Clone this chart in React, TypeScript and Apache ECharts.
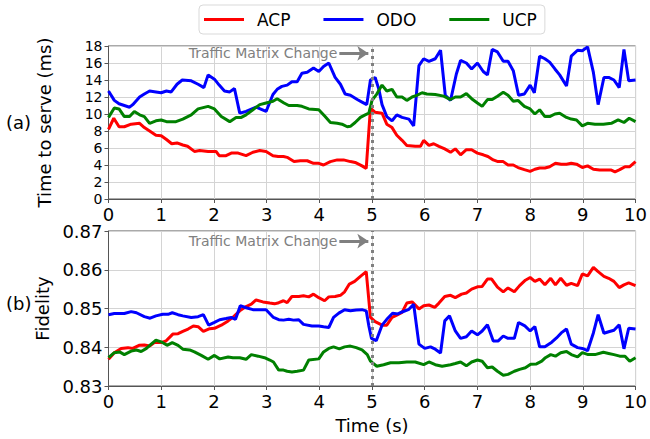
import React, { useEffect, useRef } from "react";
import * as echarts from "echarts";

const seriesNames = ["ACP", "ODO", "UCP"];
const seriesColors = ["#ff0000", "#0000ff", "#008000"];

// Top panel: time to serve (ms)
const acpServe = [
  [0, 8.2], [0.1, 9.5], [0.2, 8.5], [0.3, 8.5], [0.43, 8.8], [0.59, 8.9], [0.68, 8.4], [0.78, 8.0], [0.9, 7.5], [1.0, 7.45],
  [1.1, 7.0], [1.2, 6.5], [1.3, 6.6], [1.41, 6.35], [1.5, 6.2], [1.63, 5.6], [1.73, 5.7], [1.89, 5.6], [2.04, 5.6], [2.1, 5.1],
  [2.23, 5.1], [2.33, 5.4], [2.46, 5.4], [2.61, 5.1], [2.74, 5.5], [2.87, 5.7], [2.99, 5.6], [3.12, 5.1], [3.22, 5.0], [3.32, 5.0],
  [3.39, 4.9], [3.52, 4.4], [3.64, 4.5], [3.77, 4.5], [3.89, 4.2], [3.99, 4.2], [4.08, 4.0], [4.21, 4.4], [4.34, 4.6], [4.46, 4.6],
  [4.59, 4.4], [4.68, 4.3], [4.81, 3.9], [4.89, 3.6], [4.97, 10.7], [5.06, 10.2], [5.19, 10.1], [5.28, 8.8], [5.38, 8.4], [5.47, 7.5],
  [5.57, 6.9], [5.66, 6.3], [5.82, 6.2], [5.92, 6.2], [5.98, 6.9], [6.08, 6.3], [6.17, 6.5], [6.27, 6.2], [6.38, 5.9], [6.49, 5.5],
  [6.58, 5.9], [6.68, 5.2], [6.79, 5.8], [6.89, 5.8], [7.0, 5.4], [7.11, 5.2], [7.2, 5.0], [7.3, 4.6], [7.39, 4.4], [7.49, 4.4],
  [7.58, 4.0], [7.68, 4.0], [7.77, 3.7], [7.89, 3.45], [8.0, 3.25], [8.09, 3.5], [8.18, 3.65], [8.28, 3.65], [8.37, 3.8], [8.48, 4.2],
  [8.59, 4.1], [8.69, 4.1], [8.78, 4.2], [8.88, 4.1], [8.99, 3.7], [9.09, 3.9], [9.2, 3.5], [9.32, 3.4], [9.45, 3.4], [9.54, 3.4],
  [9.61, 3.2], [9.7, 3.45], [9.8, 3.8], [9.89, 3.8], [10, 4.4],
];
const odoServe = [
  [0, 12.7], [0.11, 11.6], [0.2, 11.2], [0.4, 10.8], [0.46, 11.1], [0.59, 12.0], [0.68, 12.35], [0.78, 12.7], [0.9, 12.6], [1.0, 12.5],
  [1.1, 12.7], [1.19, 12.6], [1.3, 13.5], [1.4, 14.0], [1.57, 13.9], [1.7, 13.5], [1.81, 13.1], [1.89, 14.6], [2.01, 14.1], [2.1, 13.4],
  [2.2, 12.7], [2.3, 12.6], [2.39, 13.0], [2.49, 10.1], [2.61, 10.3], [2.8, 10.8], [2.99, 10.3], [3.12, 12.3], [3.2, 12.9], [3.29, 13.25],
  [3.39, 13.4], [3.48, 13.8], [3.58, 13.8], [3.67, 14.8], [3.77, 14.9], [3.89, 15.4], [3.99, 15.0], [4.08, 15.6], [4.18, 16.0], [4.3, 14.3],
  [4.4, 13.5], [4.49, 12.35], [4.59, 12.2], [4.72, 11.7], [4.81, 11.4], [4.9, 11.1], [4.97, 14.0], [5.06, 14.3], [5.13, 12.9], [5.19, 11.1],
  [5.28, 9.7], [5.38, 9.2], [5.47, 9.9], [5.57, 9.6], [5.7, 9.4], [5.79, 8.6], [5.89, 15.7], [5.98, 16.5], [6.08, 16.2], [6.2, 16.5],
  [6.3, 17.5], [6.39, 12.2], [6.49, 11.6], [6.6, 14.7], [6.68, 16.3], [6.79, 16.0], [6.89, 15.3], [7.0, 16.0], [7.11, 15.0], [7.19, 14.6],
  [7.28, 17.6], [7.38, 17.3], [7.49, 16.2], [7.58, 16.2], [7.68, 15.1], [7.78, 12.2], [7.89, 12.35], [8.0, 13.4], [8.08, 12.5], [8.18, 16.8],
  [8.28, 16.5], [8.37, 16.1], [8.47, 15.3], [8.56, 14.6], [8.69, 13.3], [8.78, 16.8], [8.9, 17.5], [8.99, 17.45], [9.09, 17.9], [9.2, 14.9],
  [9.29, 11.1], [9.4, 14.3], [9.49, 14.3], [9.59, 14.0], [9.69, 13.1], [9.78, 17.6], [9.87, 13.9], [10, 14.0],
];
const ucpServe = [
  [0, 9.6], [0.11, 10.7], [0.2, 10.6], [0.3, 9.7], [0.4, 9.7], [0.49, 10.3], [0.59, 9.9], [0.68, 9.7], [0.78, 8.9], [0.9, 9.2],
  [1.0, 9.3], [1.1, 9.1], [1.28, 9.1], [1.41, 9.4], [1.57, 9.9], [1.7, 10.6], [1.89, 10.9], [2.01, 10.6], [2.14, 9.7], [2.3, 9.1],
  [2.42, 9.6], [2.52, 9.6], [2.61, 9.9], [2.74, 10.5], [2.87, 11.1], [2.99, 11.3], [3.12, 11.5], [3.2, 11.8], [3.33, 11.3], [3.42, 11.0],
  [3.58, 11.0], [3.67, 10.9], [3.8, 10.6], [3.99, 10.5], [4.11, 9.7], [4.21, 9.0], [4.34, 8.9], [4.43, 8.8], [4.53, 8.5], [4.59, 8.55],
  [4.68, 9.0], [4.78, 9.6], [4.87, 9.9], [4.94, 10.1], [5.0, 11.6], [5.09, 12.35], [5.19, 13.4], [5.28, 12.7], [5.38, 12.9], [5.47, 12.0],
  [5.57, 12.0], [5.66, 11.6], [5.76, 12.0], [5.85, 12.2], [5.95, 12.5], [6.04, 12.35], [6.2, 12.3], [6.36, 12.1], [6.49, 11.7], [6.58, 12.0],
  [6.68, 12.0], [6.79, 12.4], [6.89, 11.8], [7.0, 11.3], [7.09, 10.9], [7.19, 11.7], [7.28, 11.7], [7.38, 12.1], [7.49, 12.55], [7.58, 12.2],
  [7.68, 11.5], [7.77, 11.6], [7.89, 10.9], [8.0, 10.6], [8.09, 10.0], [8.18, 10.5], [8.28, 9.7], [8.37, 9.7], [8.47, 10.0], [8.56, 10.1],
  [8.69, 9.6], [8.78, 9.4], [8.88, 9.3], [8.99, 8.6], [9.09, 8.9], [9.23, 8.8], [9.39, 8.8], [9.54, 8.9], [9.67, 9.3], [9.78, 9.0],
  [9.88, 9.5], [10, 9.1],
];

// Bottom panel: fidelity
const acpFidelity = [
  [0, 0.8369], [0.11, 0.8386], [0.24, 0.8397], [0.37, 0.8399], [0.46, 0.8397], [0.58, 0.8405], [0.68, 0.8406], [0.78, 0.8403], [0.87, 0.8412], [1.0, 0.8412],
  [1.09, 0.8416], [1.22, 0.8434], [1.32, 0.8435], [1.41, 0.8441], [1.51, 0.8447], [1.61, 0.8455], [1.7, 0.8453], [1.8, 0.8441], [1.92, 0.8448], [2.01, 0.8449],
  [2.14, 0.8457], [2.27, 0.8468], [2.36, 0.8477], [2.49, 0.8494], [2.61, 0.8505], [2.71, 0.8511], [2.8, 0.8522], [2.93, 0.8517], [3.06, 0.8514], [3.15, 0.8512],
  [3.23, 0.8515], [3.32, 0.852], [3.39, 0.8515], [3.48, 0.8531], [3.61, 0.8531], [3.7, 0.8533], [3.8, 0.853], [3.89, 0.8537], [3.99, 0.8528], [4.1, 0.852],
  [4.18, 0.853], [4.3, 0.8531], [4.4, 0.8534], [4.48, 0.8543], [4.57, 0.8563], [4.67, 0.857], [4.78, 0.8583], [4.89, 0.8595], [4.97, 0.8477], [5.06, 0.8466],
  [5.19, 0.8457], [5.28, 0.8457], [5.38, 0.8477], [5.47, 0.8483], [5.57, 0.849], [5.66, 0.8514], [5.76, 0.8517], [5.89, 0.8499], [5.98, 0.8507], [6.08, 0.8509],
  [6.19, 0.8503], [6.27, 0.8514], [6.38, 0.8531], [6.49, 0.8534], [6.58, 0.8528], [6.7, 0.8537], [6.79, 0.854], [6.89, 0.855], [7.0, 0.8556], [7.09, 0.8557],
  [7.19, 0.8576], [7.27, 0.8576], [7.38, 0.8555], [7.49, 0.8543], [7.58, 0.8553], [7.7, 0.8543], [7.8, 0.8559], [7.91, 0.8573], [8.0, 0.858], [8.09, 0.857],
  [8.18, 0.8576], [8.28, 0.8561], [8.39, 0.8578], [8.48, 0.8561], [8.58, 0.8578], [8.69, 0.856], [8.78, 0.8565], [8.9, 0.8559], [8.99, 0.8589], [9.09, 0.8584],
  [9.2, 0.8606], [9.29, 0.8595], [9.4, 0.8583], [9.49, 0.8578], [9.59, 0.857], [9.69, 0.8554], [9.78, 0.8561], [9.87, 0.8566], [10, 0.8559],
];
const odoFidelity = [
  [0, 0.8484], [0.11, 0.8487], [0.3, 0.8487], [0.43, 0.8492], [0.53, 0.8489], [0.68, 0.8479], [0.79, 0.8475], [0.9, 0.8481], [1.03, 0.8485], [1.13, 0.8485],
  [1.21, 0.8489], [1.32, 0.8484], [1.41, 0.8481], [1.57, 0.8477], [1.7, 0.8479], [1.8, 0.8484], [1.9, 0.8457], [2.01, 0.8464], [2.11, 0.8471], [2.23, 0.8474],
  [2.33, 0.8477], [2.41, 0.8472], [2.5, 0.8507], [2.61, 0.8502], [2.74, 0.8497], [2.87, 0.8497], [2.99, 0.8497], [3.13, 0.8477], [3.23, 0.8471], [3.32, 0.847],
  [3.42, 0.8472], [3.51, 0.847], [3.61, 0.8471], [3.7, 0.8459], [3.86, 0.8455], [3.99, 0.8455], [4.08, 0.8453], [4.18, 0.8451], [4.27, 0.8477], [4.37, 0.8488],
  [4.48, 0.8497], [4.59, 0.8494], [4.7, 0.8496], [4.81, 0.8497], [4.89, 0.8494], [4.94, 0.8455], [4.99, 0.8423], [5.08, 0.8417], [5.19, 0.8457], [5.28, 0.8472],
  [5.39, 0.8488], [5.49, 0.8486], [5.57, 0.8491], [5.7, 0.8498], [5.79, 0.8511], [5.89, 0.8408], [6.0, 0.8397], [6.11, 0.8401], [6.2, 0.8395], [6.3, 0.8385],
  [6.38, 0.8468], [6.47, 0.8481], [6.58, 0.8442], [6.68, 0.8423], [6.79, 0.8427], [6.89, 0.8442], [7.0, 0.8432], [7.09, 0.8442], [7.19, 0.8458], [7.3, 0.8416],
  [7.39, 0.8416], [7.49, 0.8429], [7.58, 0.8423], [7.7, 0.8423], [7.78, 0.8464], [7.9, 0.8455], [8.0, 0.8442], [8.09, 0.8453], [8.18, 0.8401], [8.28, 0.8401],
  [8.41, 0.8413], [8.5, 0.8424], [8.59, 0.8437], [8.69, 0.8447], [8.78, 0.8408], [8.9, 0.8399], [8.99, 0.8397], [9.09, 0.8391], [9.2, 0.8437], [9.29, 0.8484],
  [9.4, 0.8436], [9.49, 0.844], [9.59, 0.8444], [9.69, 0.8458], [9.78, 0.8396], [9.87, 0.8449], [10, 0.8447],
];
const ucpFidelity = [
  [0, 0.8373], [0.11, 0.8386], [0.21, 0.8388], [0.3, 0.8381], [0.43, 0.839], [0.53, 0.8393], [0.62, 0.8389], [0.72, 0.8397], [0.81, 0.8408], [0.9, 0.8418],
  [1.0, 0.8414], [1.11, 0.8405], [1.21, 0.8412], [1.32, 0.8405], [1.41, 0.8395], [1.54, 0.8393], [1.63, 0.8388], [1.76, 0.8379], [1.89, 0.8369], [2.01, 0.8379],
  [2.11, 0.837], [2.27, 0.8375], [2.36, 0.8373], [2.49, 0.8373], [2.61, 0.8369], [2.71, 0.8381], [2.84, 0.8377], [2.96, 0.8373], [3.06, 0.8367], [3.13, 0.8362],
  [3.23, 0.8341], [3.32, 0.8341], [3.39, 0.8338], [3.48, 0.8336], [3.58, 0.8338], [3.7, 0.8341], [3.8, 0.8367], [3.99, 0.837], [4.08, 0.8388], [4.18, 0.8397],
  [4.27, 0.8401], [4.38, 0.8396], [4.48, 0.8401], [4.59, 0.8403], [4.7, 0.8399], [4.81, 0.8393], [4.91, 0.8381], [4.97, 0.8364], [5.09, 0.8351], [5.22, 0.8355],
  [5.35, 0.836], [5.51, 0.836], [5.66, 0.8362], [5.82, 0.8362], [5.98, 0.8355], [6.08, 0.8362], [6.2, 0.8355], [6.33, 0.8351], [6.49, 0.8355], [6.58, 0.8358],
  [6.68, 0.8362], [6.79, 0.8352], [6.89, 0.8362], [7.0, 0.8367], [7.09, 0.8364], [7.19, 0.8347], [7.28, 0.8349], [7.38, 0.8338], [7.49, 0.8328], [7.58, 0.833],
  [7.7, 0.8338], [7.8, 0.8343], [7.91, 0.8347], [8.01, 0.8356], [8.12, 0.8357], [8.22, 0.8364], [8.29, 0.8373], [8.39, 0.8381], [8.48, 0.8377], [8.58, 0.8386],
  [8.69, 0.8389], [8.78, 0.8381], [8.9, 0.8375], [8.99, 0.8386], [9.1, 0.8381], [9.23, 0.8381], [9.39, 0.8387], [9.49, 0.8384], [9.59, 0.8381], [9.7, 0.8377],
  [9.8, 0.8377], [9.89, 0.8364], [10, 0.8373],
];

const xTicks = { min: 0, max: 10, interval: 1 };
const serveTicks = { min: 0, max: 18, interval: 2 };
const fidelityTicks = { min: 0.83, max: 0.87, interval: 0.01 };
const changeTime = 5;
const annotationText = "Traffic Matrix Change";
const arrowServe = { from: 4.38, to: 4.93, y: 17.14 };
const arrowFidelity = { from: 4.38, to: 4.93, y: 0.8674 };

const FONT = "DejaVu Sans";
const GRID_COLOR = "#d4d4d4";
const SPINE_COLOR = "#555555";

function axisCommon(fontSize = 18) {
  return {
    axisLine: { show: true, lineStyle: { color: SPINE_COLOR, width: 1 } },
    axisTick: { show: true, length: 4, lineStyle: { color: SPINE_COLOR } },
    splitLine: { show: true, lineStyle: { color: GRID_COLOR, width: 1 } },
    axisLabel: {
      color: "#000",
      fontSize,
      lineHeight: fontSize,
      fontFamily: FONT,
      margin: 6,
      showMinLabel: true,
      showMaxLabel: true,
      hideOverlap: false,
    },
  };
}

function markLines(arrow: { from: number; to: number; y: number }) {
  return {
    silent: true,
    animation: false,
    symbol: ["none", "none"],
    data: [
      {
        xAxis: changeTime,
        lineStyle: { type: [3, 4], color: "#808080", width: 3 },
        label: { show: false },
      },
      [
        {
          coord: [arrow.from, arrow.y],
          symbol: "none",
          lineStyle: { type: "solid", color: "#808080", width: 3 },
          label: {
            show: true,
            position: "start",
            formatter: annotationText,
            color: "#808080",
            fontSize: 14,
            fontFamily: FONT,
            distance: 2,
          },
        },
        { coord: [arrow.to, arrow.y], symbol: "arrow", symbolSize: [11, 11] },
      ],
    ],
  };
}

export default function App() {
  const ref = useRef<HTMLDivElement>(null);
  useEffect(() => {
    if (!ref.current) return;
    const chart = echarts.init(ref.current, undefined, { renderer: "svg" });
    const topData = [acpServe, odoServe, ucpServe];
    const botData = [acpFidelity, odoFidelity, ucpFidelity];
    const series: any[] = [];
    topData.forEach((d, i) => {
      series.push({
        name: seriesNames[i],
        type: "line",
        xAxisIndex: 0,
        yAxisIndex: 0,
        data: d,
        showSymbol: false,
        symbol: "none",
        lineStyle: { width: 3, color: seriesColors[i] },
        itemStyle: { color: seriesColors[i] },
        markLine: i === 0 ? markLines(arrowServe) : undefined,
      });
    });
    botData.forEach((d, i) => {
      series.push({
        name: seriesNames[i],
        type: "line",
        xAxisIndex: 1,
        yAxisIndex: 1,
        data: d,
        showSymbol: false,
        symbol: "none",
        lineStyle: { width: 3, color: seriesColors[i] },
        itemStyle: { color: seriesColors[i] },
        markLine: i === 0 ? markLines(arrowFidelity) : undefined,
      });
    });

    const nameStyle = { fontSize: 18, color: "#000", fontFamily: FONT };

    chart.setOption({
      animation: false,
      textStyle: { fontFamily: FONT },
      legend: {
        data: seriesNames,
        left: 199,
        top: 5,
        icon: "rect",
        itemWidth: 40,
        itemHeight: 3,
        itemGap: 33,
        padding: [6, 8, 6, 5],
        borderColor: "#d9d9d9",
        borderWidth: 1,
        borderRadius: 4,
        textStyle: { fontSize: 17, color: "#000", fontFamily: FONT, padding: [0, 0, 0, 8] },
      },
      grid: [
        { left: 108.5, right: 13, top: 46, height: 153, show: true, borderColor: SPINE_COLOR, borderWidth: 1 },
        { left: 108.5, right: 13, top: 231, height: 155, show: true, borderColor: SPINE_COLOR, borderWidth: 1 },
      ],
      xAxis: [
        { type: "value", gridIndex: 0, ...xTicks, ...axisCommon() },
        {
          type: "value",
          gridIndex: 1,
          ...xTicks,
          ...axisCommon(),
          name: "Time (s)",
          nameLocation: "middle",
          nameGap: 30,
          nameTextStyle: nameStyle,
        },
      ],
      yAxis: [
        {
          type: "value",
          gridIndex: 0,
          ...serveTicks,
          ...axisCommon(14),
          name: "Time to serve (ms)",
          nameLocation: "middle",
          nameGap: 55,
          nameTextStyle: nameStyle,
        },
        {
          type: "value",
          gridIndex: 1,
          ...fidelityTicks,
          ...axisCommon(),
          axisLabel: { ...axisCommon().axisLabel, formatter: (v: number) => v.toFixed(2) },
          name: "Fidelity",
          nameLocation: "middle",
          nameGap: 55,
          nameTextStyle: nameStyle,
        },
      ],
      graphic: [
        { type: "text", left: 6, top: 113, style: { text: "(a)", fontSize: 18, fontFamily: FONT, fill: "#000" } },
        { type: "text", left: 6, top: 294, style: { text: "(b)", fontSize: 18, fontFamily: FONT, fill: "#000" } },
      ],
      series,
    });
    return () => chart.dispose();
  }, []);
  return (
    <div
      ref={ref}
      style={{ position: "absolute", left: 0, top: 0, width: 650, height: 439, background: "#fff" }}
    />
  );
}
